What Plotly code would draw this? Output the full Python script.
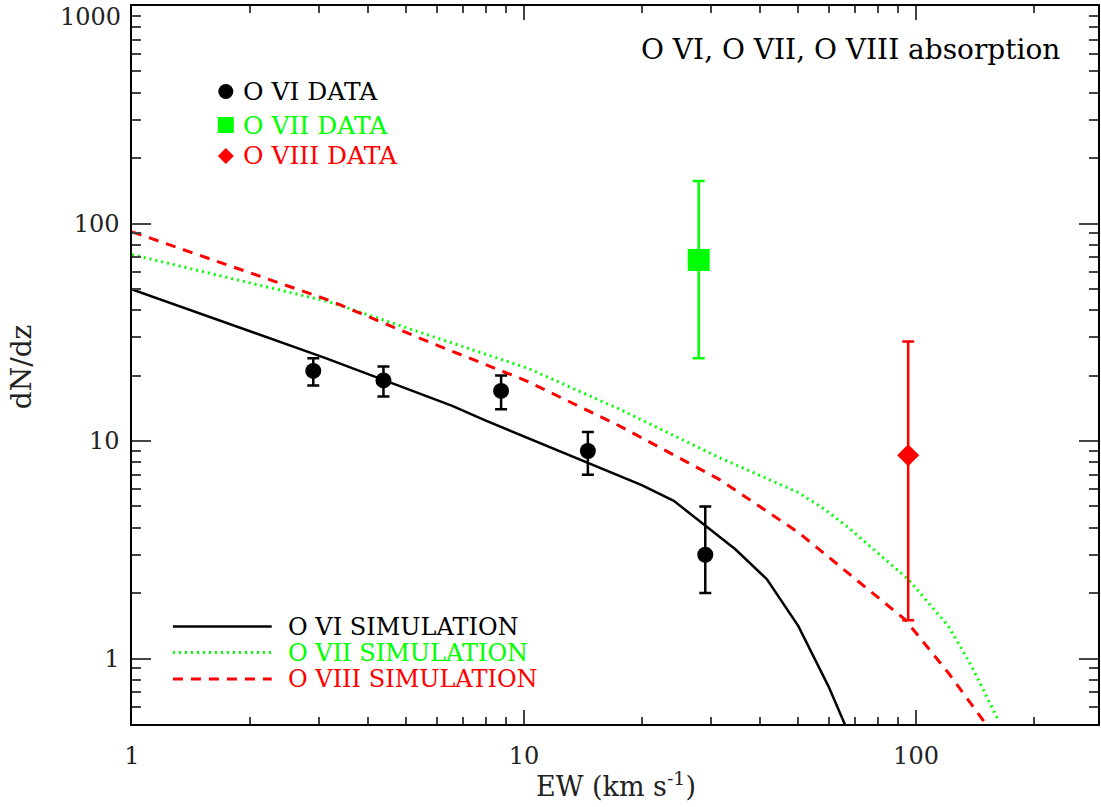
import plotly.graph_objects as go

# ---------------- data ----------------
ovi_x = [2.9, 4.38, 8.74, 14.55, 29.0]
ovi_y = [21, 19, 17, 9, 3]
ovi_err_plus = [3, 3, 3, 2, 2]
ovi_err_minus = [3, 3, 3, 2, 1]

ovii_x = [27.9]
ovii_y = [68]
ovii_err_plus = [89]
ovii_err_minus = [44]

oviii_x = [95.5]
oviii_y = [8.6]
oviii_err_plus = [20.1]
oviii_err_minus = [7.1]

sim_ovi_x = [1.0, 3.13, 6.56, 7.99, 19.97, 24.1, 34.6, 41.7, 50.1, 59.8, 65.9]
sim_ovi_y = [49.8, 24.0, 14.5, 12.4, 6.27, 5.31, 3.18, 2.31, 1.41, 0.745, 0.496]

sim_ovii_x = [1.0, 3.19, 5.73, 10.3, 17.46, 31.4, 50.1, 58.0, 67.2, 95.6, 120.9, 138.6, 162.0]
sim_ovii_y = [71.9, 43.6, 30.6, 21.5, 14.04, 8.41, 5.80, 4.90, 4.00, 2.31, 1.41, 0.922, 0.523]

sim_oviii_x = [1.0, 3.19, 5.73, 10.1, 17.46, 31.4, 50.1, 74.1, 93.8, 120.9, 149.9]
sim_oviii_y = [91.6, 44.3, 28.5, 18.97, 11.77, 6.68, 3.80, 2.15, 1.51, 0.859, 0.506]

x_tickvals = [1, 10, 100]
x_ticktext = ["1", "10", "100"]
x_minor = [2, 3, 4, 5, 6, 7, 8, 9, 20, 30, 40, 50, 60, 70, 80, 90, 200]
y_tickvals = [1, 10, 100]
y_ticktext = ["1", "10", "100"]
y_minor = [0.6, 0.7, 0.8, 0.9, 2, 3, 4, 5, 6, 7, 8, 9, 20, 30, 40, 50, 60, 70, 80, 90,
           200, 300, 400, 500, 600, 700, 800, 900]

data_legend = ["O VI DATA", "O VII DATA", "O VIII DATA"]
sim_legend = ["O VI SIMULATION", "O VII SIMULATION", "O VIII SIMULATION"]

BLACK = "#000000"
GREEN = "#00FF00"
RED = "#FF0000"
FONT = "DejaVu Serif"
TXT = "#222222"

# ---------------- layout geometry ----------------
W, H = 1101, 807
L, R, T, B = 132, 1, 6, 83
PW = W - L - R
PH = H - T - B


def px2x(px):
    return (px - L) / PW


def py2y(py):
    return (H - B - py) / PH


fig = go.Figure()

# simulations
fig.add_trace(go.Scatter(x=sim_ovi_x, y=sim_ovi_y, mode="lines",
                         line=dict(color=BLACK, width=2.5), showlegend=False))
fig.add_trace(go.Scatter(x=sim_ovii_x, y=sim_ovii_y, mode="lines",
                         line=dict(color=GREEN, width=3, dash="2px,4px"), showlegend=False))
fig.add_trace(go.Scatter(x=sim_oviii_x, y=sim_oviii_y, mode="lines",
                         line=dict(color=RED, width=3, dash="10px,8px"), showlegend=False))

# data points
fig.add_trace(go.Scatter(
    x=ovi_x, y=ovi_y, mode="markers",
    marker=dict(symbol="circle", size=16, color=BLACK),
    error_y=dict(type="data", array=ovi_err_plus, arrayminus=ovi_err_minus,
                 color=BLACK, thickness=2.5, width=6),
    showlegend=False))
fig.add_trace(go.Scatter(
    x=ovii_x, y=ovii_y, mode="markers",
    marker=dict(symbol="square", size=22, color=GREEN),
    error_y=dict(type="data", array=ovii_err_plus, arrayminus=ovii_err_minus,
                 color=GREEN, thickness=2.5, width=6),
    showlegend=False))
fig.add_trace(go.Scatter(
    x=oviii_x, y=oviii_y, mode="markers",
    marker=dict(symbol="diamond", size=17, color=RED),
    error_y=dict(type="data", array=oviii_err_plus, arrayminus=oviii_err_minus,
                 color=RED, thickness=2.5, width=6),
    showlegend=False))

shapes = []
annotations = []

# data legend (markers + coloured text)
leg_colors = [BLACK, GREEN, RED]
leg_y = [91.5, 125, 156]
for i, (lab, col, yy) in enumerate(zip(data_legend, leg_colors, leg_y)):
    common = dict(xref="paper", yref="paper", xsizemode="pixel", ysizemode="pixel",
                  xanchor=px2x(226), yanchor=py2y(yy), fillcolor=col, line=dict(width=0))
    if i == 0:
        shapes.append(dict(type="circle", x0=-7.5, x1=7.5, y0=-7.5, y1=7.5, **common))
    elif i == 1:
        shapes.append(dict(type="rect", x0=-8, x1=8, y0=-8, y1=8, **common))
    else:
        shapes.append(dict(type="path", path="M 0,8 L 8,0 L 0,-8 L -8,0 Z", **common))
    annotations.append(dict(x=px2x(241), y=py2y(yy), xref="paper", yref="paper",
                            text=lab, showarrow=False, xanchor="left", yanchor="middle",
                            font=dict(family=FONT, size=25, color=col)))

# simulation legend (line samples + coloured text)
sim_y = [626.5, 652.5, 679]
sim_dash = ["solid", "2px,4px", "10px,8px"]
sim_w = [2.5, 3, 3]
for lab, col, yy, dsh, lw in zip(sim_legend, leg_colors, sim_y, sim_dash, sim_w):
    shapes.append(dict(type="line", xref="paper", yref="paper",
                       x0=px2x(173), x1=px2x(272), y0=py2y(yy), y1=py2y(yy),
                       line=dict(color=col, width=lw, dash=dsh)))
    annotations.append(dict(x=px2x(286), y=py2y(yy), xref="paper", yref="paper",
                            text=lab, showarrow=False, xanchor="left", yanchor="middle",
                            font=dict(family=FONT, size=24, color=col)))

# title in plot
annotations.append(dict(x=px2x(1064), y=py2y(50), xref="paper", yref="paper",
                        text="O VI, O VII, O VIII absorption", showarrow=False,
                        xanchor="right", yanchor="middle",
                        font=dict(family=FONT, size=28, color=BLACK)))

# top y tick label (shifted down like the original)
annotations.append(dict(x=px2x(123), y=py2y(17), xref="paper", yref="paper",
                        text="1000", showarrow=False, xanchor="right", yanchor="middle",
                        font=dict(family=FONT, size=24, color=TXT)))

# axis titles
annotations.append(dict(x=px2x(617), y=py2y(784), xref="paper", yref="paper",
                        text="EW (km s<sup>-1</sup>)", showarrow=False,
                        xanchor="center", yanchor="middle",
                        font=dict(family=FONT, size=27, color=TXT)))
annotations.append(dict(x=px2x(22), y=py2y(367), xref="paper", yref="paper",
                        text="dN/dz", showarrow=False, textangle=-90,
                        xanchor="center", yanchor="middle",
                        font=dict(family=FONT, size=28, color=TXT)))

axis_common = dict(showgrid=False, zeroline=False, showline=True, linecolor=BLACK,
                   linewidth=1.5, mirror="ticks", ticks="inside", tickcolor="#444",
                   tickwidth=1.5, tickfont=dict(family=FONT, size=24, color=TXT))

fig.update_layout(
    width=W, height=H,
    margin=dict(l=L, r=R, t=T, b=B, pad=0),
    paper_bgcolor="white", plot_bgcolor="white",
    xaxis=dict(type="log", range=[0, 2.4642], tickvals=x_tickvals, ticktext=x_ticktext,
               ticklen=14, ticklabelstandoff=9,
               minor=dict(tickvals=x_minor, ticks="inside", ticklen=7,
                          tickcolor="#444", tickwidth=1.5, showgrid=False),
               **axis_common),
    yaxis=dict(type="log", range=[-0.30103, 3], tickvals=y_tickvals, ticktext=y_ticktext,
               ticklen=19, ticklabelstandoff=6,
               minor=dict(tickvals=y_minor, ticks="inside", ticklen=9,
                          tickcolor="#444", tickwidth=1.5, showgrid=False),
               **axis_common),
    shapes=shapes,
    annotations=annotations,
    showlegend=False,
)

fig.write_html("out.html",
               config={"displayModeBar": False},
               post_script="document.body.style.margin='0';document.body.style.overflow='hidden';")
